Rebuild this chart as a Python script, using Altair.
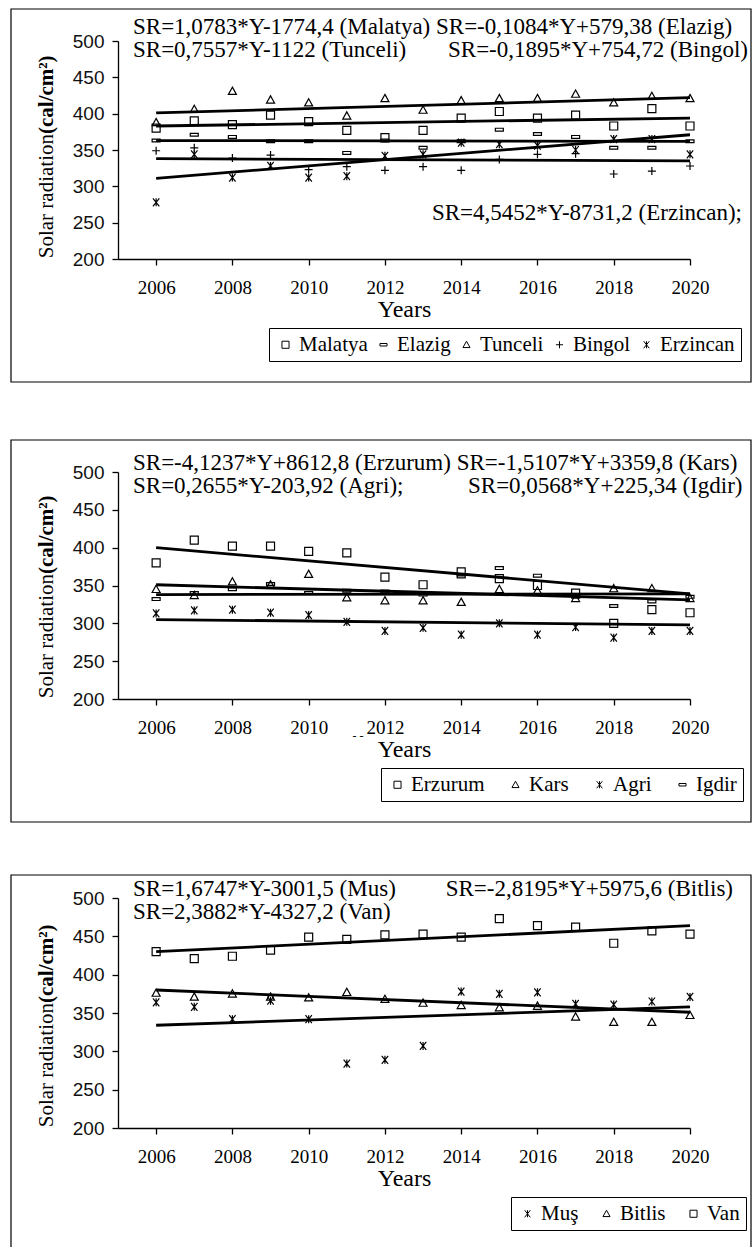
import altair as alt
import pandas as pd

YEARS = list(range(2006, 2021))

# ---------------- Panel 1 ----------------
P1_STATIONS = ["Malatya", "Elazig", "Tunceli", "Bingol", "Erzincan"]
MALATYA = [380, 390, 385, 398, 389, 377, 367, 377, 394, 403, 394, 398, 383, 407, 383]
ELAZIG = [363, 371, 368, 362, 362, 346, 363, 353, 362, 378, 372, 368, 353, 353, 362]
TUNCELI = [388, 406, 431, 419, 415, 397, 421, 405, 418, 421, 421, 427, 415, 424, 421]
BINGOL = [349, 353, 339, 343, 323, 327, 322, 327, 322, 337, 344, 345, 317, 321, 328]
ERZINCAN = [278, 344, 312, 328, 312, 314, 342, 344, 360, 358, 356, 350, 365, 365, 344]
P1_TREND_START = [383, 363, 401, 338, 311]
P1_TREND_END = [394, 362, 422, 335, 371]

# ---------------- Panel 2 ----------------
P2_STATIONS = ["Erzurum", "Kars", "Agri", "Igdir"]
ERZURUM = [380, 410, 402, 402, 395, 393, 361, 351, 368, 359, 350, 340, 300, 318, 314]
KARS = [345, 337, 355, 351, 365, 334, 330, 330, 328, 345, 343, 333, 346, 346, 333]
AGRI = [313, 317, 318, 314, 311, 302, 290, 294, 285, 300, 285, 295, 281, 290, 290]
IGDIR = [332, 340, 345, 352, 340, 343, 342, 338, 362, 373, 363, 335, 323, 329, 335]
P2_TREND_START = [400, 351, 305, 338]
P2_TREND_END = [339, 331, 298, 339]

# ---------------- Panel 3 ----------------
P3_STATIONS = ["Muş", "Bitlis", "Van"]
MUS = [364, 358, 342, 366, 342, 284, 289, 307, 378, 375, 377, 362, 361, 365, 371]
BITLIS = [376, 371, 375, 371, 370, 377, 368, 363, 360, 357, 359, 345, 338, 338, 347]
VAN = [430, 421, 424, 432, 449, 446, 452, 453, 449, 473, 464, 462, 441, 457, 453]
P3_TREND_START = [334, 380, 430]
P3_TREND_END = [358, 351, 464]

X_TICKS = [2006, 2008, 2010, 2012, 2014, 2016, 2018, 2020]
Y_TICKS = [200, 250, 300, 350, 400, 450, 500]

# marker glyphs (Excel-like)
SQUARE = "M-1,-1L1,-1L1,1L-1,1Z"
TRIANGLE = "M0,-1L1,0.8L-1,0.8Z"
DASH = "M-1,-0.35L1,-0.35L1,0.35L-1,0.35Z"
PLUS = "M-1,0L1,0M0,-1L0,1"
STAR = "M-0.8,-1L0.8,1M-0.8,1L0.8,-1M0,-1L0,1"

SERIF = "Liberation Serif"
SANS = "Liberation Sans"
W = 572
EQ = 23


def long_df(stations, series):
    rows = []
    for st, vals in zip(stations, series):
        for yr, v in zip(YEARS, vals):
            rows.append({"station": st, "year": yr, "value": v})
    return pd.DataFrame(rows)


def trend_df(stations, start, end):
    rows = []
    for st, a, b in zip(stations, start, end):
        rows.append({"station": st, "year": YEARS[0], "value": a})
        rows.append({"station": st, "year": YEARS[-1], "value": b})
    return pd.DataFrame(rows)


def text_layer(s, x, y, align="left", weight="normal", size=EQ, angle=0, font=SERIF):
    return alt.Chart(pd.DataFrame({"t": [s]})).mark_text(
        align=align, baseline="middle", font=font, fontSize=size,
        fontWeight=weight, color="black", angle=angle
    ).encode(x=alt.value(x), y=alt.value(y), text="t:N")


def panel(stations, series, shapes, t_start, t_end, H, top_pad, texts, legend_x, col_pad):
    df = long_df(stations, series)
    tdf = trend_df(stations, t_start, t_end)
    x = alt.X("year:Q",
              scale=alt.Scale(domain=[2005, 2020], nice=False, zero=False),
              axis=alt.Axis(values=X_TICKS, format="d", grid=False,
                            labelFont=SERIF, labelFontSize=19, labelColor="black",
                            labelPadding=13, tickSize=6, tickColor="black",
                            tickWidth=1.3, domainColor="black", domainWidth=1.3,
                            title="Years", titleFont=SERIF, titleFontSize=24,
                            titleFontWeight="normal", titleColor="black",
                            titlePadding=0, labelFlush=False))
    y = alt.Y("value:Q",
              scale=alt.Scale(domain=[200, 500], nice=False, zero=False),
              axis=alt.Axis(values=Y_TICKS, grid=False, title=None,
                            labelFont=SANS, labelFontSize=19, labelColor="#111111",
                            labelPadding=8, tickSize=6, tickColor="black",
                            tickWidth=1.3, domainColor="black", domainWidth=1.3))
    frame = alt.Chart(pd.DataFrame({"f": [1]})).mark_rect(
        fillOpacity=0, stroke="black", strokeWidth=1.2
    ).encode(x=alt.value(-107), x2=alt.value(633),
             y=alt.value(-top_pad), y2=alt.value(H + 123))
    lines = alt.Chart(tdf).mark_line(color="black", strokeWidth=2.8).encode(
        x=x, y=y, detail="station:N")
    pts = alt.Chart(df).mark_point(
        filled=False, opacity=1, color="black", strokeWidth=1.2, size=64
    ).encode(
        x=x, y=y,
        shape=alt.Shape("station:N",
                        scale=alt.Scale(domain=stations, range=shapes),
                        legend=alt.Legend(orient="none", legendX=legend_x,
                                          legendY=H + 69, direction="horizontal",
                                          columns=len(stations), title=None,
                                          labelFont=SERIF, labelFontSize=21,
                                          labelColor="black", symbolSize=50,
                                          symbolStrokeColor="black",
                                          symbolFillColor="transparent",
                                          symbolStrokeWidth=1, labelOffset=3,
                                          columnPadding=col_pad, padding=6,
                                          strokeColor="black")))
    split = H - 125
    ytitle1 = text_layer("Solar radiation", -71, split, align="right", size=21, angle=270)
    ytitle2 = text_layer("(cal/cm²)", -71, split, align="left", size=21, angle=270,
                         weight="bold")
    layers = [frame, lines, pts, ytitle1, ytitle2]
    for t in texts:
        layers.append(text_layer(*t))
    return alt.layer(*layers).properties(width=W, height=H)


p1 = panel(P1_STATIONS, [MALATYA, ELAZIG, TUNCELI, BINGOL, ERZINCAN],
           [SQUARE, DASH, TRIANGLE, PLUS, STAR],
           P1_TREND_START, P1_TREND_END, 218, 32,
           [("SR=1,0783*Y-1774,4 (Malatya) SR=-0,1084*Y+579,38 (Elazig)", 15, -14),
            ("SR=0,7557*Y-1122 (Tunceli)", 15, 9),
            ("SR=-0,1895*Y+754,72 (Bingol)", 330, 9),
            ("SR=4,5452*Y-8731,2 (Erzincan);", 624, 172, "right")],
           151, 5)

p2 = panel(P2_STATIONS, [ERZURUM, KARS, AGRI, IGDIR],
           [SQUARE, TRIANGLE, STAR, DASH],
           P2_TREND_START, P2_TREND_END, 227, 32,
           [("SR=-4,1237*Y+8612,8 (Erzurum) SR=-1,5107*Y+3359,8 (Kars)", 15, -9),
            ("SR=0,2655*Y-203,92 (Agri);", 15, 14),
            ("SR=0,0568*Y+225,34 (Igdir)", 350, 14),
            ("- -", 240, 264, "center", "normal", 12)],
           263, 20)

p3 = panel(P3_STATIONS, [MUS, BITLIS, VAN],
           [STAR, TRIANGLE, SQUARE],
           P3_TREND_START, P3_TREND_END, 230, 23,
           [("SR=1,6747*Y-3001,5 (Mus)", 15, -9),
            ("SR=-2,8195*Y+5975,6 (Bitlis)", 615, -9, "right"),
            ("SR=2,3882*Y-4327,2 (Van)", 15, 14)],
           393, 17)

top = alt.vconcat(p1, p2, spacing=56).resolve_scale(
    shape="independent").resolve_legend(shape="independent")
chart = alt.vconcat(top, p3, spacing=51).resolve_scale(
    shape="independent").resolve_legend(shape="independent").properties(
    padding={"left": 10, "top": 8, "right": 0, "bottom": 0}
).configure_view(strokeWidth=0)

chart.save("out.html", embed_options={"renderer": "svg", "actions": False})
